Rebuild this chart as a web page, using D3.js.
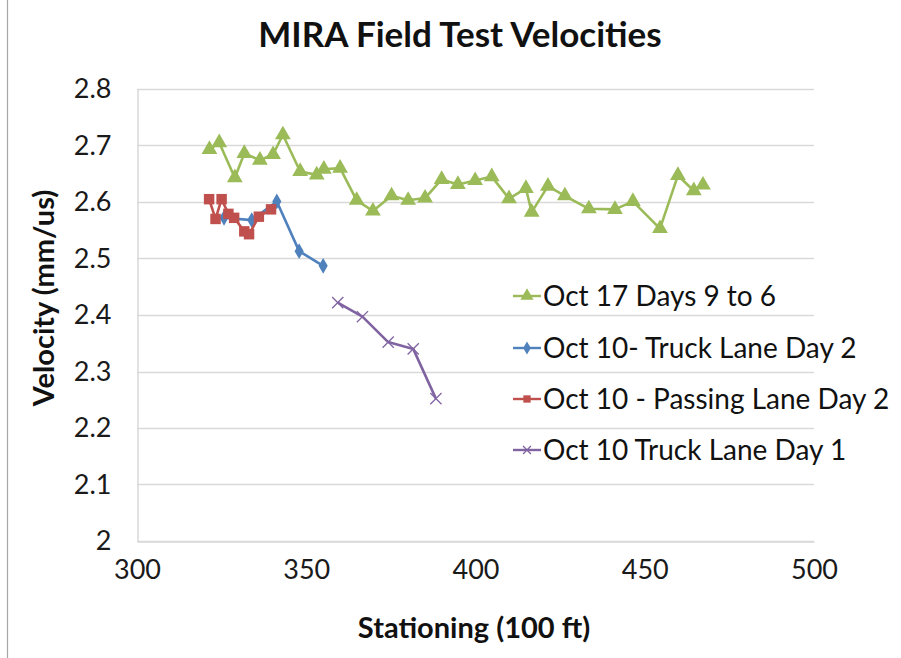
<!DOCTYPE html>
<html>
<head>
<meta charset="utf-8">
<script src="https://cdn.jsdelivr.net/npm/d3@7"></script>
<style>
  html, body { margin: 0; padding: 0; background: #fff; }
  svg { display: block; font-family: Lato, "Open Sans", sans-serif; }
</style>
</head>
<body>
<svg id="chart" width="901" height="658"></svg>
<script>
// Stationing (100 ft) and velocity (mm/us) per series
const oct17Station = [321.4, 324.3, 328.9, 331.7, 336.3, 340.2, 343.1, 348.2, 353.1, 355.2, 360.0, 364.9, 369.7, 375.2, 380.1, 385.1, 390.0, 394.8, 399.9, 404.8, 409.9, 414.9, 416.6, 421.4, 426.4, 433.5, 441.2, 446.5, 454.5, 459.8, 464.5, 467.2];
const oct17Velocity = [2.693, 2.705, 2.643, 2.686, 2.674, 2.684, 2.719, 2.654, 2.648, 2.658, 2.660, 2.603, 2.584, 2.611, 2.603, 2.607, 2.640, 2.631, 2.638, 2.645, 2.606, 2.624, 2.582, 2.628, 2.611, 2.588, 2.587, 2.601, 2.553, 2.647, 2.620, 2.630];

const truckDay2Station = [325.7, 333.9, 341.3, 347.9, 355.0];
const truckDay2Velocity = [2.572, 2.568, 2.601, 2.513, 2.487];

const passingDay2Station = [321.3, 323.2, 325.0, 327.0, 328.7, 331.7, 333.1, 336.0, 339.6];
const passingDay2Velocity = [2.605, 2.570, 2.605, 2.579, 2.572, 2.548, 2.543, 2.574, 2.587];

const truckDay1Station = [359.3, 366.6, 374.2, 381.6, 388.3];
const truckDay1Velocity = [2.422, 2.397, 2.352, 2.340, 2.252];

const seriesNames = ["Oct 17 Days 9 to 6", "Oct 10- Truck Lane Day 2", "Oct 10 - Passing Lane Day 2", "Oct 10 Truck Lane Day 1"];
const xTicks = [300, 350, 400, 450, 500];
const yTicks = [2, 2.1, 2.2, 2.3, 2.4, 2.5, 2.6, 2.7, 2.8];

const zip = (xs, ys) => xs.map((x, i) => ({ x, y: ys[i] }));
const series = [
  { name: seriesNames[0], pts: zip(oct17Station, oct17Velocity), color: "#9BBB59", marker: "triangle" },
  { name: seriesNames[1], pts: zip(truckDay2Station, truckDay2Velocity), color: "#4F81BD", marker: "diamond" },
  { name: seriesNames[2], pts: zip(passingDay2Station, passingDay2Velocity), color: "#C0504D", marker: "square" },
  { name: seriesNames[3], pts: zip(truckDay1Station, truckDay1Velocity), color: "#8064A2", marker: "cross" }
];

const svg = d3.select("#chart");
const plot = { left: 137, right: 814, top: 89, bottom: 541 };

const x = d3.scaleLinear().domain([300, 500]).range([plot.left, plot.right]);
const y = d3.scaleLinear().domain([2, 2.8]).range([plot.bottom, plot.top]);

// outer frame edge
svg.append("line").attr("x1", 7.5).attr("x2", 7.5).attr("y1", 0).attr("y2", 658)
  .attr("stroke", "#a6a6a6").attr("stroke-width", 1.2);

// horizontal gridlines
svg.append("g").selectAll("line").data(yTicks).join("line")
  .attr("x1", plot.left).attr("x2", plot.right)
  .attr("y1", d => Math.round(y(d)) + 0.5).attr("y2", d => Math.round(y(d)) + 0.5)
  .attr("stroke", "#d9d9d9").attr("stroke-width", 1.5);

// axes
const xAxis = d3.axisBottom(x).tickValues(xTicks).tickSize(0).tickPadding(28).tickFormat(d3.format("d"));
const yAxis = d3.axisLeft(y).tickValues(yTicks).tickSize(0).tickPadding(26)
  .tickFormat(d => d === 2 ? "2" : d3.format(".1f")(d));

const gx = svg.append("g").attr("transform", `translate(0,${Math.round(y(2)) + 0.5})`).call(xAxis);
const gy = svg.append("g").attr("transform", `translate(${plot.left + 0.5},0)`).call(yAxis);
[gx, gy].forEach(g => {
  g.select(".domain").attr("stroke", "#d9d9d9").attr("stroke-width", 1.5);
  g.selectAll("text").attr("font-family", "Lato, sans-serif").attr("font-size", 27).attr("fill", "#1a1a1a");
});
gx.selectAll("text").attr("dy", "0.35em");

// titles
svg.append("text").attr("x", 460).attr("y", 47).attr("text-anchor", "middle")
  .attr("font-weight", "bold").attr("font-size", 35).attr("fill", "#111")
  .text("MIRA Field Test Velocities");
svg.append("text").attr("x", 474).attr("y", 638).attr("text-anchor", "middle")
  .attr("font-weight", "bold").attr("font-size", 29).attr("fill", "#111")
  .text("Stationing (100 ft)");
svg.append("text").attr("transform", "translate(54,298) rotate(-90)").attr("text-anchor", "middle")
  .attr("font-weight", "bold").attr("font-size", 29).attr("fill", "#111")
  .text("Velocity (mm/us)");

// marker drawing
function drawMarker(sel, kind, color, size) {
  if (kind === "triangle") {
    sel.append("path").attr("d", d3.symbol(d3.symbolTriangle, size * 9)()).attr("fill", color);
  } else if (kind === "diamond") {
    sel.append("path").attr("d", d3.symbol(d3.symbolDiamond, size * 6)()).attr("fill", color);
  } else if (kind === "square") {
    const s = size * 0.95;
    sel.append("rect").attr("x", -s / 2).attr("y", -s / 2).attr("width", s).attr("height", s).attr("fill", color);
  } else if (kind === "cross") {
    const s = size * 0.35;
    sel.append("path").attr("d", `M${-s},${-s}L${s},${s}M${-s},${s}L${s},${-s}`)
      .attr("stroke", color).attr("stroke-width", 1.3).attr("fill", "none");
  }
}

const line = d3.line().x(d => x(d.x)).y(d => y(d.y));
const markerSize = { triangle: 12, diamond: 12, square: 11, cross: 16 };

// draw order keeps passing lane on top of the truck lane day 2
const drawOrder = [0, 3, 1, 2];
drawOrder.forEach(i => {
  const s = series[i];
  const g = svg.append("g");
  g.append("path").datum(s.pts).attr("d", line)
    .attr("fill", "none").attr("stroke", s.color).attr("stroke-width", 2.6).attr("stroke-linejoin", "round");
  g.selectAll("g.pt").data(s.pts).join("g").attr("class", "pt")
    .attr("transform", d => `translate(${x(d.x)},${y(d.y)})`)
    .each(function () { drawMarker(d3.select(this), s.marker, s.color, markerSize[s.marker]); });
});

// legend
const legendY = [296, 348, 399, 450];
const legend = svg.append("g");
series.forEach((s, i) => {
  const g = legend.append("g").attr("transform", `translate(0,${legendY[i]})`);
  g.append("line").attr("x1", 513).attr("x2", 541).attr("y1", 0).attr("y2", 0)
    .attr("stroke", s.color).attr("stroke-width", 2.4);
  const m = g.append("g").attr("transform", "translate(527,0)");
  drawMarker(m, s.marker, s.color, markerSize[s.marker] * 0.7);
  g.append("text").attr("x", 543).attr("y", 0).attr("dy", "0.36em")
    .attr("font-size", 28).attr("fill", "#111").text(s.name);
});
</script>
</body>
</html>
